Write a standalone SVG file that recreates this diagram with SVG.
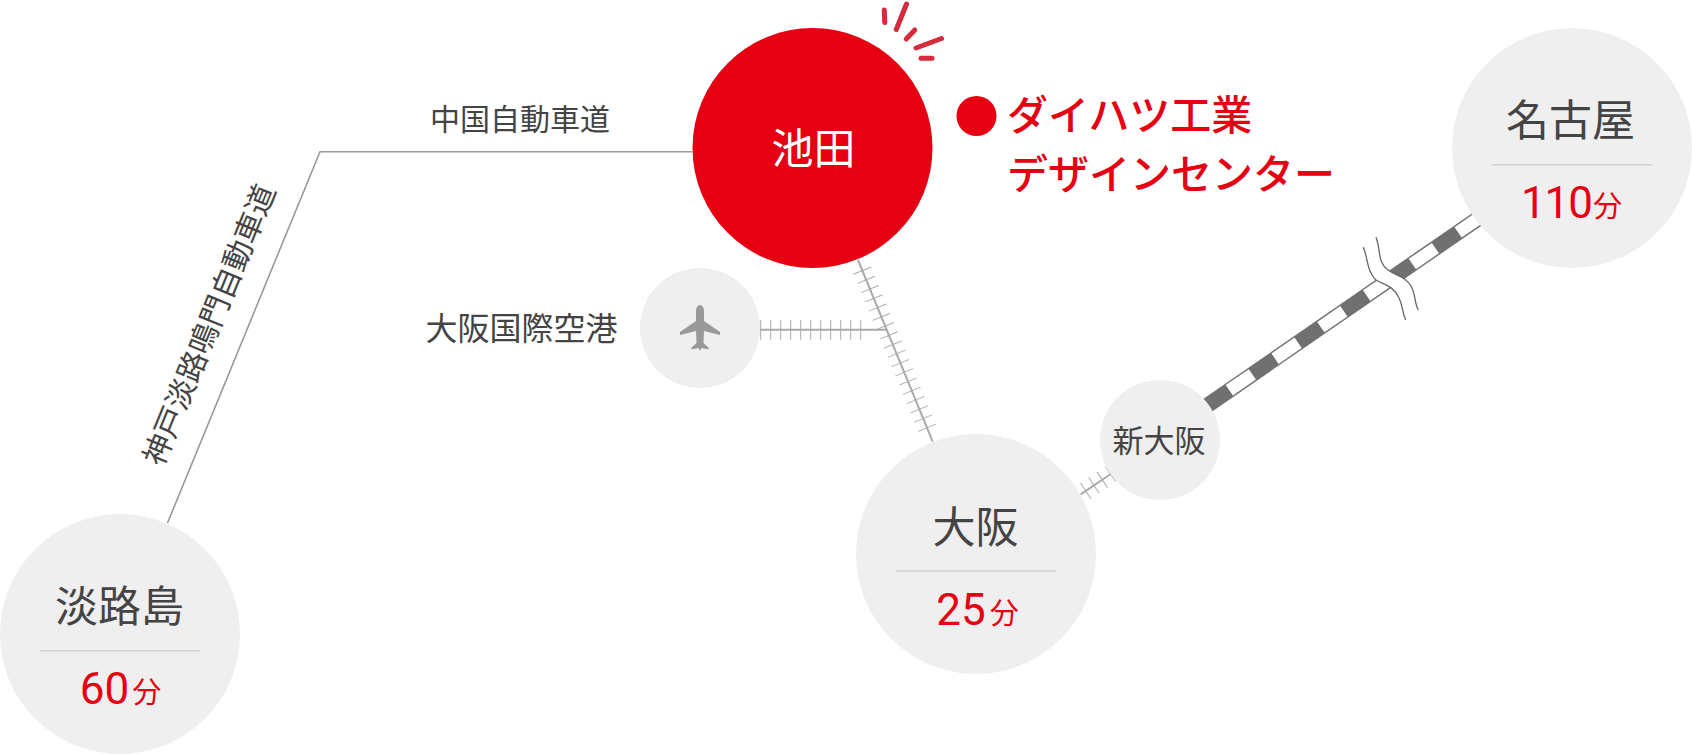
<svg xmlns="http://www.w3.org/2000/svg" width="1692" height="754" viewBox="0 0 1692 754">
<style>
.j{font-family:"Noto Sans CJK JP","Noto Sans",sans-serif;fill:#444}
.m{text-anchor:middle}
.big{font-size:43px}
.t{font-family:Roboto,"Noto Sans CJK JP",sans-serif;fill:#e60012;font-size:44px;text-anchor:middle}
.u{font-family:"Noto Sans CJK JP",sans-serif;font-size:29px}
.c{fill:#efefef}
.d{stroke:#d2d2d2;stroke-width:1.5}
.r{stroke:#aaa;fill:none}
.s{stroke:#d62a3d;stroke-width:5;stroke-linecap:round}
.l{fill:#e60012;font-size:41px;font-weight:500;font-family:"Noto Sans CJK JP",sans-serif}
.w{fill:none;stroke:#666;stroke-width:1.3}
</style>
<rect width="1692" height="754" fill="#fff"/>
<g id="connectors">
<polyline points="167.5,523 320,151.7 692,151.7" fill="none" stroke="#999" stroke-width="1.6"/>
<line class="r" x1="858" y1="260" x2="932.7" y2="441.7" stroke-width="2"/>
<line class="r" x1="860.1" y1="265" x2="928" y2="430" stroke-width="19" stroke-dasharray="1 9" stroke-dashoffset="-5.5"/>
<line class="r" x1="760" y1="329.7" x2="886" y2="329.7" stroke-width="2"/>
<line class="r" x1="760" y1="329.7" x2="870" y2="329.7" stroke-width="20" stroke-dasharray="1 9" stroke-dashoffset="-10.2"/>
<line class="r" x1="1080.7" y1="494.3" x2="1110.7" y2="474" stroke-width="2"/>
<line class="r" x1="1080.7" y1="494.3" x2="1110.7" y2="474" stroke-width="19" stroke-dasharray="1 9" stroke-dashoffset="-5.5"/>
<line x1="1172" y1="429.8" x2="1480" y2="217.3" stroke="#707070" stroke-width="15.5"/>
<line x1="1172" y1="429.8" x2="1480" y2="217.3" stroke="#fff" stroke-width="12.6" stroke-dasharray="28 27.6" stroke-dashoffset="-14"/>
<g id="rail-break">
<path fill="#fff" d="M1363.3 247.3C1368 258 1367 272 1376 280C1384 285 1393 285 1399 298C1403 306 1402 312 1405.7 320L1418.3 310C1414 302 1416 295 1411 286C1405 276 1396 276 1388 270C1377 262 1381 250 1376 237.3Z"/>
<path class="w" d="M1363.3 247.3C1368 258 1367 272 1376 280C1384 285 1393 285 1399 298C1403 306 1402 312 1405.7 320"/>
<path class="w" d="M1376 237.3C1381 250 1377 262 1388 270C1396 276 1405 276 1411 286C1416 295 1414 302 1418.3 310"/>
</g>
</g>
<g id="node-ikeda">
<circle cx="812.5" cy="148" r="120" fill="#e60012"/>
<text class="j m" x="813.5" y="164" font-size="42" style="fill:#fff">池田</text>
<line class="s" x1="884.3" y1="10" x2="884.7" y2="22.5"/>
<line class="s" x1="906.5" y1="4" x2="896.3" y2="29.5"/>
<line class="s" x1="914.8" y1="30" x2="906.2" y2="39"/>
<line class="s" x1="941.5" y1="38.5" x2="916" y2="48"/>
<line class="s" x1="921" y1="58.3" x2="932" y2="58.3"/>
</g>
<g id="node-daihatsu">
<circle cx="976.5" cy="116" r="20" fill="#e60012"/>
<text class="l" x="1007" y="130">ダイハツ工業</text>
<text class="l" x="1007" y="189">デザインセンター</text>
</g>
<g id="node-nagoya">
<circle class="c" cx="1572" cy="148" r="120"/>
<text class="j m big" x="1570.5" y="136">名古屋</text>
<line class="d" x1="1492" y1="164.7" x2="1652" y2="164.7"/>
<text class="t" x="1571" y="218" letter-spacing="-1">110<tspan class="u" dx="1" dy="-1">分</tspan></text>
</g>
<g id="node-osaka-airport">
<circle class="c" cx="700" cy="328" r="60"/>
<path fill="#999" d="M700 305C702.5 305 704 308 704 311L704 321L720 332L720 335L704 331L703.5 343L708.5 347.5L708.5 349.5L701.5 348L700 351L698.5 348L691.5 349.5L691.5 347.5L696.5 343L696 331L680 335L680 332L696 321L696 311C696 308 697.5 305 700 305Z"/>
<text class="j m" x="521.5" y="340" font-size="32">大阪国際空港</text>
</g>
<g id="node-shin-osaka">
<circle class="c" cx="1160" cy="440" r="60"/>
<text class="j m" x="1159" y="452" font-size="31">新大阪</text>
</g>
<g id="node-osaka">
<circle class="c" cx="976" cy="554" r="120"/>
<text class="j m big" x="975.5" y="543">大阪</text>
<line class="d" x1="896" y1="571" x2="1056" y2="571"/>
<text class="t" x="977.5" y="625">25<tspan class="u" dx="4" dy="-1">分</tspan></text>
</g>
<g id="node-awaji">
<circle class="c" cx="120" cy="634" r="120"/>
<text class="j m big" x="119.5" y="622">淡路島</text>
<line class="d" x1="40" y1="650.7" x2="200" y2="650.7"/>
<text class="t" x="120.5" y="704">60<tspan class="u" dx="3" dy="-1">分</tspan></text>
</g>
<g id="labels">
<text class="j m" x="520" y="130" font-size="30">中国自動車道</text>
<text class="j m" font-size="30" transform="translate(210 325) rotate(-67.7)" y="10">神戸淡路鳴門自動車道</text>
</g>
</svg>
